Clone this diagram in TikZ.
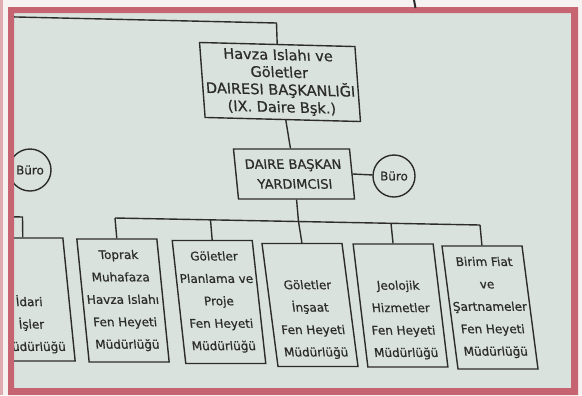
\documentclass[tikz,border=0pt]{standalone}
\usepackage{fontspec}
\setmainfont[FakeBold=0.6]{DejaVu Sans}
\definecolor{bgc}{RGB}{218,226,222}
\definecolor{framec}{RGB}{198,100,114}
\definecolor{inkc}{RGB}{44,44,44}
\definecolor{outc}{RGB}{247,242,242}
\begin{document}
\begin{tikzpicture}[x=1bp,y=-1bp,
  ink/.style={draw=inkc, line width=1.4bp},
  conn/.style={draw=inkc, line width=1.4bp},
  unit/.style={ink, inner sep=0pt, minimum width=80bp, minimum height=123bp,
    align=center, text=inkc, font=\fontsize{12}{22.5}\selectfont},
  buro/.style={ink, circle, minimum size=42bp, inner sep=0pt, text=inkc,
    font=\fontsize{12}{14}\selectfont}]
\useasboundingbox (0,0) rectangle (582,395);
\fill[outc] (0,0) rectangle (582,395);
\fill[bgc] (14,13) rectangle (571,388);
\begin{scope}
\clip (14,13) rectangle (571,388);
% top box
\node[ink, inner sep=0pt, minimum width=155bp, minimum height=75bp,
  xslant=-0.1, rotate=-1.5, align=center, text=inkc,
  font=\fontsize{14.5}{17.5}\selectfont] (hb) at (280,82)
  {Havza Islahı ve\\Göletler\\DAIRESI BAŞKANLIĞI\\(IX. Daire Bşk.)};
% deputy
\node[ink, inner sep=0pt, minimum width=116bp, minimum height=50bp,
  xslant=-0.1, align=center, text=inkc,
  font=\fontsize{13}{20}\selectfont] (ydk) at (294,174)
  {DAIRE BAŞKAN\\YARDIMCISI};
\node[buro] (buroR) at (394,176) {Büro};
\node[buro] (buroL) at (30,170) {Büro};
% units
\node[unit, xslant=-0.10] (idari) at (29,299.5)
  {\strut\\\strut\\İdari\\İşler\\Müdürlüğü};
\node[unit, xslant=-0.10] (toprak) at (123,300.5)
  {Toprak\\Muhafaza\\Havza Islahı\\Fen Heyeti\\Müdürlüğü};
\node[unit, xslant=-0.11] (plan) at (219,302)
  {Göletler\\Planlama ve\\Proje\\Fen Heyeti\\Müdürlüğü};
\node[unit, xslant=-0.13] (insaat) at (310,305)
  {\strut\\Göletler\\İnşaat\\Fen Heyeti\\Müdürlüğü};
\node[unit, xslant=-0.12] (jeo) at (400.5,305.5)
  {\strut\\Jeolojik\\Hizmetler\\Fen Heyeti\\Müdürlüğü};
\node[unit, xslant=-0.13] (birim) at (490,307.5)
  {Birim Fiat\\ve\\Şartnameler\\Fen Heyeti\\Müdürlüğü};
% connectors
\coordinate (tl) at (0,16.6);
\coordinate (tc) at (276.5,23);
\draw[conn] (tl) -- (tc) -- (hb.north);
\draw[conn] ([xshift=3bp]hb.south) -- ([xshift=-1bp]ydk.north);
\draw[conn] (ydk.east) -- (buroR);
\coordinate (b1) at (115,218);
\coordinate (b2) at (210.5,219.8);
\coordinate (b3) at (298.5,221.6);
\coordinate (b4) at (391,223.3);
\coordinate (b5) at (480,225);
\draw[conn] (b1) -- (b5);
\draw[conn] (ydk.south) -- (b3) -- (insaat.north);
\draw[conn] (b1) -- (toprak.north);
\draw[conn] (b2) -- (plan.north);
\draw[conn] (b4) -- (jeo.north);
\draw[conn] (b5) -- (birim.north);
\coordinate (bl) at (0,216.5);
\coordinate (b0) at (22.5,217);
\draw[conn] (bl) -- (b0) -- (idari.north);
\end{scope}
% photo frame
\fill[framec, even odd rule] (8,7) rectangle (578,395) (14,13) rectangle (571,388);
\fill[framec!55] (0,0) rectangle (2.5,395);
\draw[inkc, line width=2bp] (414,0) -- (415.5,8);
\end{tikzpicture}
\end{document}
